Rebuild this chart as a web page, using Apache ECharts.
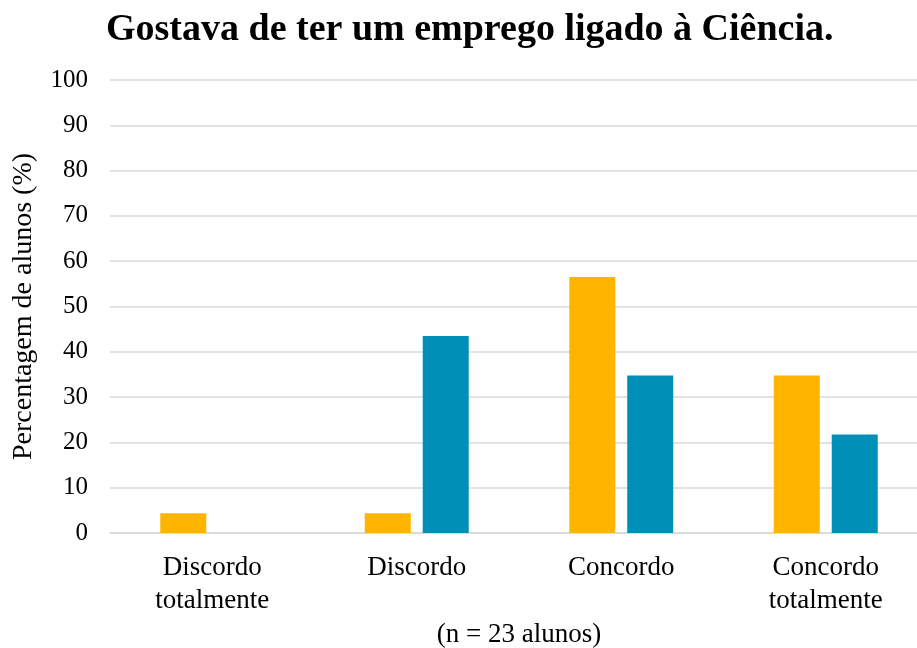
<!DOCTYPE html>
<html>
<head>
<meta charset="utf-8">
<script src="https://cdn.jsdelivr.net/npm/echarts@6/dist/echarts.min.js"></script>
<style>
  html, body { margin: 0; padding: 0; background: #fff; }
  #chart { width: 917px; height: 648px; }
</style>
</head>
<body>
<div id="chart"></div>
<script>
// categories on the x axis
const categories = ['Discordo\ntotalmente', 'Discordo', 'Concordo', 'Concordo\ntotalmente'];
// percentages per group (n = 23)
const serieA = [4.35, 4.35, 56.52, 34.78];
const serieB = [0, 43.48, 34.78, 21.74];
const yTicks = [0, 10, 20, 30, 40, 50, 60, 70, 80, 90, 100];

const FONT = '"Liberation Serif", "Times New Roman", serif';

const chart = echarts.init(document.getElementById('chart'), null, { renderer: 'canvas' });
chart.setOption({
  animation: false,
  backgroundColor: '#ffffff',
  title: {
    text: 'Gostava de ter um emprego ligado à Ciência.',
    left: 101,
    top: 6,
    textStyle: {
      fontFamily: FONT,
      fontSize: 38,
      fontWeight: 'bold',
      color: '#000'
    }
  },
  grid: {
    left: 110,
    width: 818,
    top: 80,
    height: 453,
    outerBoundsMode: 'none'
  },
  xAxis: {
    type: 'category',
    data: categories,
    name: '(n = 23 alunos)',
    nameLocation: 'middle',
    nameGap: 81,
    nameTextStyle: { fontFamily: FONT, fontSize: 27, color: '#000' },
    axisLine: { show: true, lineStyle: { color: '#d9d9d9', width: 1.5 } },
    axisTick: { show: false },
    axisLabel: {
      fontFamily: FONT,
      fontSize: 27,
      color: '#000',
      margin: 18,
      lineHeight: 33
    }
  },
  yAxis: {
    type: 'value',
    min: yTicks[0],
    max: yTicks[yTicks.length - 1],
    interval: 10,
    name: 'Percentagem de alunos (%)',
    nameLocation: 'middle',
    nameGap: 72,
    nameRotate: 90,
    nameTextStyle: { fontFamily: FONT, fontSize: 28, color: '#000' },
    axisLine: { show: false },
    axisTick: { show: false },
    axisLabel: {
      fontFamily: FONT,
      fontSize: 25,
      color: '#000',
      margin: 22
    },
    splitLine: { lineStyle: { color: '#d9d9d9', width: 1.5 } }
  },
  series: [
    {
      name: 'A',
      type: 'bar',
      data: serieA,
      barWidth: 46,
      barGap: '26%',
      itemStyle: { color: '#FFB400' }
    },
    {
      name: 'B',
      type: 'bar',
      data: serieB,
      barWidth: 46,
      itemStyle: { color: '#008FB7' }
    }
  ]
});
</script>
</body>
</html>
